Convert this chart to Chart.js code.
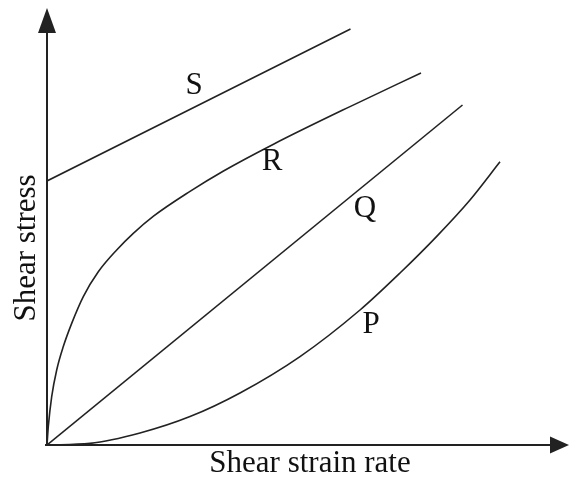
<!DOCTYPE html>
<html>
<head>
<meta charset="utf-8">
<script src="https://cdn.jsdelivr.net/npm/chart.js@4/dist/chart.umd.min.js"></script>
<style>
  html, body { margin: 0; padding: 0; background: #fff; }
  #wrap { width: 570px; height: 482px; }
</style>
</head>
<body>
<div id="wrap"><canvas id="canvas"></canvas></div>
<script>
// curve data, in arbitrary units (strain rate on x, stress on y)
let curveNames = ["S", "R", "Q", "P"];
let curveS = [[0, 66], [60.7, 104]];
let curveR = [[0, 0], [0.26, 4.6], [0.94, 12.1], [1.94, 18.75], [3.26, 24.6], [4.94, 30.4],
              [7.26, 37.1], [10.26, 43.3], [13.94, 48.75], [17.26, 52.9], [21.3, 57.2],
              [28.6, 63.4], [35.3, 68.5], [45.3, 75.2], [60.6, 84.6], [74.8, 93]];
let curveQ = [[0, 0], [83.1, 85]];
let curveP = [[0, 0], [8.6, 0.4], [18.6, 3], [28.6, 7.1], [38.6, 13], [50.6, 22.1],
              [62.6, 33.75], [70.6, 43], [77.9, 52.1], [84.6, 61.25], [90.6, 70.8]];
let xTitle = "Shear strain rate";
let yTitle = "Shear stress";

let INK = "#222";
let SERIF = "31px 'Liberation Serif', 'DejaVu Serif', serif";

function toPoints(arr) {
    return arr.map(function (p) { return { x: p[0], y: p[1] }; });
}

// where each curve letter sits (data units)
let labelSpots = { S: [29.4, 87.75], R: [45, 68.75], Q: [63.6, 57], P: [64.8, 28] };

let axesPlugin = {
    id: "axesPlugin",
    afterDatasetsDraw: function (chart) {
        let ctx = chart.ctx;
        let xs = chart.scales.x, ys = chart.scales.y;
        let ox = xs.getPixelForValue(0), oy = ys.getPixelForValue(0);
        let area = chart.chartArea;
        ctx.save();
        ctx.strokeStyle = INK;
        ctx.fillStyle = INK;
        ctx.lineWidth = 2;
        // y axis + arrow
        ctx.beginPath();
        ctx.moveTo(ox, oy + 1);
        ctx.lineTo(ox, area.top + 20);
        ctx.stroke();
        ctx.beginPath();
        ctx.moveTo(ox, area.top - 5);
        ctx.lineTo(ox - 9, area.top + 20);
        ctx.lineTo(ox + 9, area.top + 20);
        ctx.closePath();
        ctx.fill();
        // x axis + arrow
        ctx.beginPath();
        ctx.moveTo(ox - 2, oy);
        ctx.lineTo(area.right - 15, oy);
        ctx.stroke();
        ctx.beginPath();
        ctx.moveTo(area.right + 2, oy);
        ctx.lineTo(area.right - 17, oy - 8.5);
        ctx.lineTo(area.right - 17, oy + 8.5);
        ctx.closePath();
        ctx.fill();

        // curve letters
        ctx.font = SERIF;
        ctx.fillStyle = "#111";
        ctx.textAlign = "center";
        ctx.textBaseline = "alphabetic";
        curveNames.forEach(function (n) {
            let s = labelSpots[n];
            ctx.fillText(n, xs.getPixelForValue(s[0]), ys.getPixelForValue(s[1]));
        });

        // axis titles
        ctx.fillText(xTitle, 310, oy + 27);
        ctx.translate(area.left - 12, 248);
        ctx.rotate(-Math.PI / 2);
        ctx.fillText(yTitle, 0, 0);
        ctx.restore();
    }
};

let lineStyle = {
    borderColor: INK,
    borderWidth: 1.6,
    pointRadius: 0,
    fill: false,
    showLine: true,
    cubicInterpolationMode: "monotone"
};

let ctx = document.getElementById("canvas").getContext("2d");
let chart = new Chart(ctx, {
    type: "scatter",
    data: {
        datasets: [
            Object.assign({ label: "S", data: toPoints(curveS) }, lineStyle),
            Object.assign({ label: "R", data: toPoints(curveR) }, lineStyle),
            Object.assign({ label: "Q", data: toPoints(curveQ) }, lineStyle),
            Object.assign({ label: "P", data: toPoints(curveP) }, lineStyle)
        ]
    },
    options: {
        responsive: true,
        maintainAspectRatio: false,
        animation: false,
        layout: { padding: { left: 47, right: 3, top: 13, bottom: 37 } },
        plugins: { legend: { display: false }, tooltip: { enabled: false } },
        scales: {
            x: { type: "linear", min: 0, max: 104, display: false },
            y: { type: "linear", min: 0, max: 108, display: false }
        }
    },
    plugins: [axesPlugin]
});
</script>
</body>
</html>
